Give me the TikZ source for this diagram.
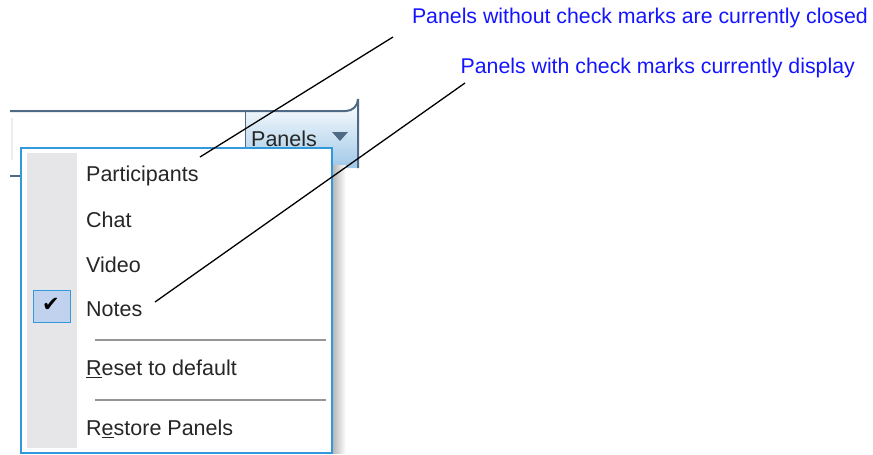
\documentclass[tikz,border=0pt]{standalone}
\usepackage{fontspec}
\setmainfont{Liberation Sans}
\newfontfamily\symfont{DejaVu Sans}
\usetikzlibrary{positioning}
\definecolor{menuedge}{RGB}{51,153,221}
\definecolor{barline}{RGB}{80,105,135}
\definecolor{stripgray}{RGB}{230,230,232}
\definecolor{checkfill}{RGB}{193,210,238}
\definecolor{sepgray}{RGB}{150,150,150}
\definecolor{notecol}{RGB}{20,20,255}
\definecolor{btnblue}{RGB}{160,200,232}
\tikzset{
  item/.style={anchor=west, inner sep=0pt, font=\fontsize{21.5}{24}\selectfont, text=black!85},
  note/.style={anchor=east, inner sep=0pt, font=\fontsize{21.3}{24}\selectfont, text=notecol},
  pointer/.style={black, line width=1.3pt}
}
\begin{document}
\begin{tikzpicture}[x=1pt,y=-1pt]
    \useasboundingbox (0,0) rectangle (873,455);

    % Toolbar and Panels button
    \fill[white] (10,111) rectangle (245,176);
    \draw[gray!15, line width=1.5pt] (12,118) -- (12,160);
    \shade[top color=white, bottom color=btnblue] (245,111) -- (346,111) arc (90:0:12) -- (358,168) -- (245,168) -- cycle;
    \draw[barline, line width=2pt] (10,111) -- (346,111) arc (90:0:12) -- (358,168);
    \draw[barline] (245,111) -- (245,150);
    \draw[barline, line width=1.5pt] (10,176) -- (22,176);
    \node[anchor=west, inner sep=0pt, font=\fontsize{21.5}{24}\selectfont, text=black!85] (panels) at (251,139) {Panels};
    \fill[barline] (332,132) -- (348,132) -- (340,141) -- cycle;

    % Menu with shadow
    \shade[left color=gray!60, right color=white] (332,165) rectangle (346,453);
    \filldraw[fill=white, draw=menuedge, line width=2pt] (21,148) rectangle (332,453);
    \fill[stripgray] (27,153) rectangle (77,448);

    % Items
    \node[item] (participants) at (86,176) {Participants};
    \node[item] (chat) at (86,220) {Chat};
    \node[item] (video) at (86,265) {Video};
    \node[item] (notes) at (86,309) {Notes};
    \node[item] (reset) at (86,369) {\underline{R}eset to default};
    \node[item] (restore) at (86,429) {R\underline{e}store Panels};
    \draw[sepgray, line width=1.2pt] (95,340) -- (326,340);
    \draw[sepgray, line width=1.2pt] (95,400) -- (326,400);

    % Check box
    \filldraw[fill=checkfill, draw=menuedge, line width=1pt] (33,290) rectangle (70,322);
    \node[font=\symfont\fontsize{21}{24}\selectfont, text=black] (tick) at (51,305) {✔};

    % Notes and pointers
    \node[note] (closed) at (868,18) {Panels without check marks are currently closed};
    \node[note] (shown) at (855,68) {Panels with check marks currently display};
    \coordinate (closedstart) at (393,37);
    \coordinate (shownstart) at (465,83);
    \coordinate (closedend) at (200,157);
    \coordinate (shownend) at (155,302);
    \draw[pointer] (closedstart) -- (closedend);
    \draw[pointer] (shownstart) -- (shownend);
\end{tikzpicture}
\end{document}
